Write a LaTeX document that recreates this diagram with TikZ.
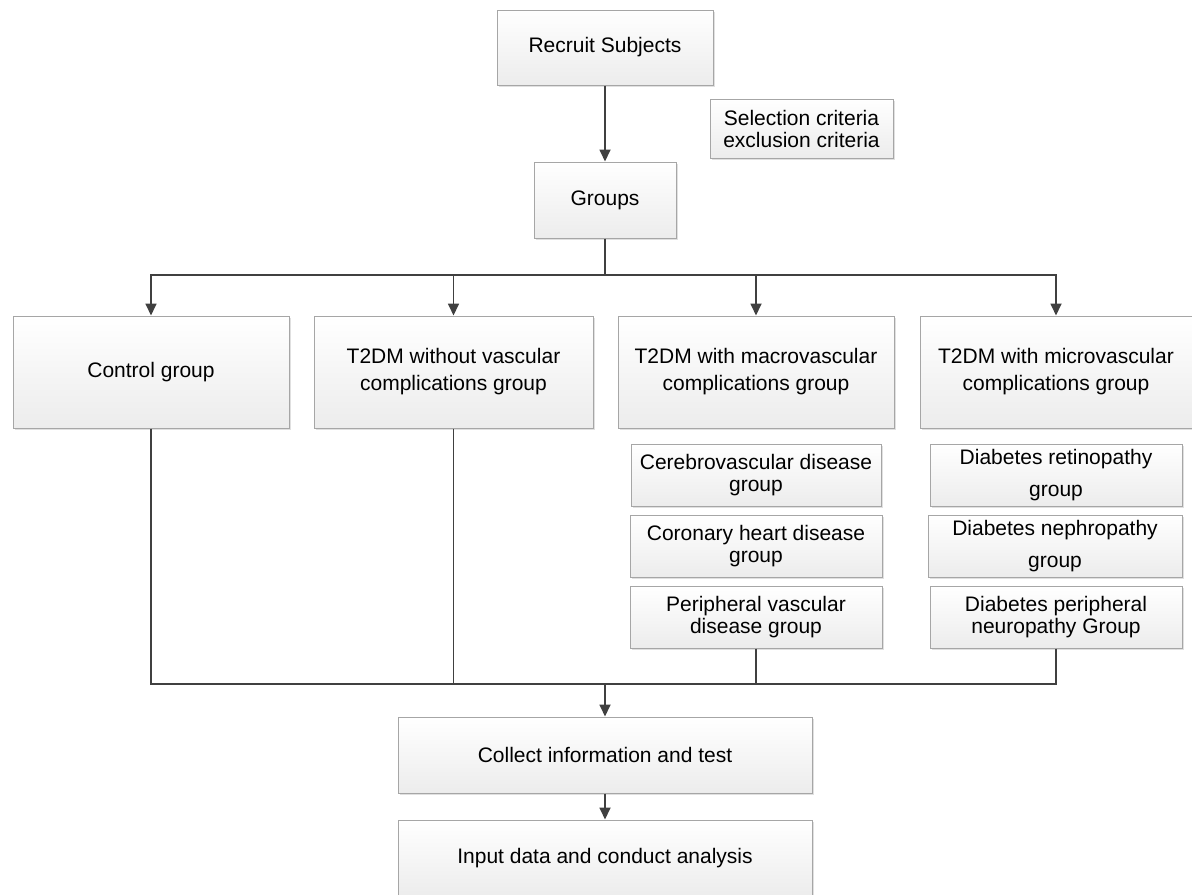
\documentclass[tikz,border=0pt]{standalone}
\usepackage{fontspec}
\setmainfont{Liberation Sans}
\usetikzlibrary{arrows.meta,shadows}

\definecolor{boxline}{HTML}{A6A6A6}
\definecolor{boxbottom}{HTML}{ECECEC}
\definecolor{arrowgray}{HTML}{404040}

\tikzset{every picture/.style={line width=0.75pt}}
\tikzset{
  box/.style={draw=boxline, line width=0.75pt, top color=white, bottom color=boxbottom,
    align=center, inner sep=2pt, font=\fontsize{15.75}{16.5}\selectfont,
    drop shadow={shadow xshift=1.5pt, shadow yshift=-1.5pt, fill=black!12, opacity=1}},
  link/.style={draw=arrowgray, line width=1.3pt},
  arr/.style={link, -{Triangle[width=8.25pt,length=9pt]}}
}

\begin{document}
\begin{tikzpicture}[x=0.75pt,y=0.75pt,yscale=-1,xscale=1]
\useasboundingbox (0,0) rectangle (1192,894);

%Shape: Rectangle [recruit]
\node [box, minimum width=162pt, minimum height=56.25pt] (recruit) at (605,47.5) {Recruit Subjects};
%Shape: Rectangle [criteria]
\node [box, minimum width=137.25pt, minimum height=44.25pt] (criteria) at (801.5,128.5) {Selection criteria\\exclusion criteria};
%Shape: Rectangle [groups]
\node [box, minimum width=106.5pt, minimum height=57pt] (groups) at (605,200) {Groups};

% Group boxes
\node [box, minimum width=207pt, minimum height=84pt] (control) at (151,372) {Control group};
\node [box, minimum width=209.25pt, minimum height=84pt] (without) at (453.5,372) {T2DM without vascular\\[3.75pt]complications group};
\node [box, minimum width=207pt, minimum height=84pt] (macro) at (756,372) {T2DM with macrovascular\\[3.75pt]complications group};
\node [box, minimum width=204pt, minimum height=84pt] (micro) at (1056,372) {T2DM with microvascular\\[3.75pt]complications group};

% Macrovascular subgroups
\node [box, minimum width=187.5pt, minimum height=46.5pt] (cerebro) at (756,475) {Cerebrovascular disease\\group};
\node [box, minimum width=189pt, minimum height=46.5pt] (coronary) at (756,546) {Coronary heart disease\\group};
\node [box, minimum width=189pt, minimum height=46.5pt] (periph) at (756,617) {Peripheral vascular\\disease group};

% Microvascular subgroups
\node [box, minimum width=189pt, minimum height=46.5pt] (retino) at (1056,475) {Diabetes retinopathy\\[7.5pt]group};
\node [box, minimum width=190.5pt, minimum height=46.5pt] (nephro) at (1055,546) {Diabetes nephropathy\\[7.5pt]group};
\node [box, minimum width=189pt, minimum height=46.5pt] (neuro) at (1056,617) {Diabetes peripheral\\neuropathy Group};

%Shape: Rectangle [collect, input]
\node [box, minimum width=310.5pt, minimum height=57pt] (collect) at (605,755) {Collect information and test};
\node [box, minimum width=310.5pt, minimum height=57pt] (input) at (605,858) {Input data and conduct analysis};

% Junctions
\coordinate (split) at (605,275);
\coordinate (merge) at (605,684);

% Connectors
\draw [arr] (recruit) -- (groups);
\draw [link] (groups) -- (split);
\draw [arr] (split) -| (control.north);
\draw [arr] (split) -| (without.north);
\draw [arr] (split) -| (macro.north);
\draw [arr] (split) -| (micro.north);

\draw [link] (control.south) |- (merge);
\draw [link] (without.south) |- (merge);
\draw [link] (periph.south) |- (merge);
\draw [link] (neuro.south) |- (merge);
\draw [arr] (merge) -- (collect);
\draw [arr] (collect) -- (input);

\end{tikzpicture}
\end{document}
